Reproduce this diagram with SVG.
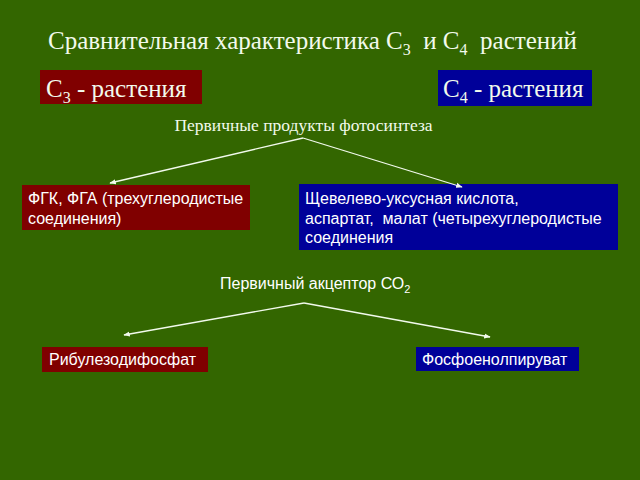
<svg xmlns="http://www.w3.org/2000/svg" width="640" height="480" viewBox="0 0 640 480">
<defs>
<style>
.bg{fill:#336600}
.red{fill:#800000}
.blue{fill:#000099}
.serif{font-family:"Liberation Serif","Times New Roman",serif;fill:#F2FAEC}
.sans{font-family:"Liberation Sans",Arial,sans-serif;fill:#FFFFFF;font-size:16px}
.conn{stroke:#F2FAEC;stroke-width:1.3;fill:none;marker-end:url(#ah)}
</style>
<marker id="ah" viewBox="0 0 10 10" refX="9" refY="5" markerWidth="5" markerHeight="5" orient="auto">
<path d="M0,1 L10,5 L0,9 Z" fill="#F2FAEC"/>
</marker>
</defs>
<rect class="bg" x="0" y="0" width="640" height="480"/>
<g id="title">
<text class="serif" x="48" y="49" font-size="25" xml:space="preserve">Сравнительная характеристика С<tspan font-size="16" dy="6">3</tspan><tspan dy="-6">  и С</tspan><tspan font-size="16" dy="6">4</tspan><tspan dy="-6">  растений</tspan></text>
</g>
<g id="c3">
<rect class="red" x="40" y="70" width="162" height="34"/>
<text class="serif" x="46" y="97" font-size="25">С<tspan font-size="16" dy="6">3</tspan><tspan dy="-6"> - растения</tspan></text>
</g>
<g id="c4">
<rect class="blue" x="438" y="70" width="154" height="36"/>
<text class="serif" x="443" y="97" font-size="25">С<tspan font-size="16" dy="6">4</tspan><tspan dy="-6"> - растения</tspan></text>
</g>
<g id="products">
<text class="serif" x="303.5" y="131" font-size="17.5" text-anchor="middle">Первичные продукты фотосинтеза</text>
</g>
<g id="pgk">
<rect class="red" x="22" y="185" width="228" height="45"/>
<text class="sans" x="28" y="204">ФГК, ФГА (трехуглеродистые</text>
<text class="sans" x="28" y="224">соединения)</text>
</g>
<g id="oxalo">
<rect class="blue" x="299" y="184" width="319" height="66"/>
<text class="sans" x="305" y="204">Щевелево-уксусная кислота,</text>
<text class="sans" x="305" y="224" xml:space="preserve">аспартат,  малат (четырехуглеродистые</text>
<text class="sans" x="305" y="243">соединения</text>
</g>
<g id="acceptor">
<text class="sans" x="220" y="289">Первичный акцептор СО<tspan font-size="11" dy="4">2</tspan></text>
</g>
<g id="rubp">
<rect class="red" x="42" y="347" width="166" height="25"/>
<text class="sans" x="49" y="365">Рибулезодифосфат</text>
</g>
<g id="pep">
<rect class="blue" x="416" y="347" width="163" height="24"/>
<text class="sans" x="422" y="365">Фосфоенолпируват</text>
</g>
<g id="connectors">
<line class="conn" x1="303" y1="138" x2="110" y2="183"/>
<line class="conn" x1="303" y1="138" x2="462" y2="187"/>
<line class="conn" x1="304" y1="303" x2="124" y2="335"/>
<line class="conn" x1="304" y1="303" x2="490" y2="337"/>
</g>
</svg>
